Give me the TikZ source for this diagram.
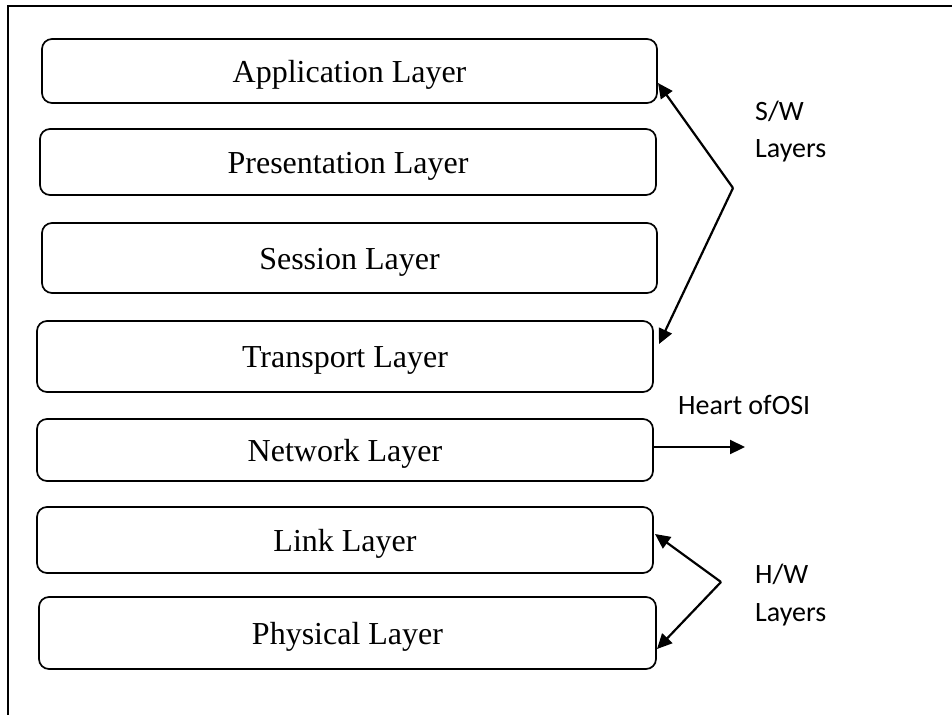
\documentclass[tikz,border=0pt]{standalone}
\usepackage{fontspec}
\setmainfont{Liberation Serif}
\newfontfamily\labelfont{Carlito}
\usetikzlibrary{arrows.meta}
\tikzset{
  layerbox/.style={draw, line width=1.7pt, rounded corners=10pt, inner sep=0pt,
    text height=22pt, text depth=0pt, font=\fontsize{32}{36}\selectfont},
  pointer/.style={line width=2.2pt, -{Triangle[length=15pt,width=14pt]}},
  sidelabel/.style={anchor=base west, inner sep=0pt, font=\labelfont\fontsize{28}{32}\selectfont}
}
\begin{document}
\begin{tikzpicture}[x=1pt,y=-1pt]
\useasboundingbox (0,0) rectangle (952,715);
% open frame: top and left edges only
\draw[line width=2.2pt] (952,6) -- (8,6) -- (8,715);
% the seven layers
\node[layerbox, minimum width=615pt, minimum height=64pt] (app)  at (349.5,71)  {Application Layer};
\node[layerbox, minimum width=616pt, minimum height=66pt] (pres) at (348,162)   {Presentation Layer};
\node[layerbox, minimum width=615pt, minimum height=70pt] (sess) at (349.5,258) {Session Layer};
\node[layerbox, minimum width=616pt, minimum height=71pt] (trans) at (345,356.5) {Transport Layer};
\node[layerbox, minimum width=616pt, minimum height=62pt] (net)  at (345,450)   {Network Layer};
\node[layerbox, minimum width=616pt, minimum height=66pt] (link) at (345,540)   {Link Layer};
\node[layerbox, minimum width=617pt, minimum height=72pt] (phys) at (347.5,633) {Physical Layer};
% software layers bracket
\coordinate (swjoin) at (733,188);
\coordinate (swtop) at (658,83);
\coordinate (swbot) at (659,344);
\draw[pointer] (swjoin) -- (swtop);
\draw[pointer] (swjoin) -- (swbot);
\node[sidelabel] (swlabel) at (755,120) {S/W};
\node[sidelabel] (swlabel2) at (755,157) {Layers};
% network layer callout
\coordinate (heart) at (745,447);
\draw[pointer] (net.east |- heart) -- (heart);
\node[sidelabel] (heartlabel) at (678,414) {Heart ofOSI};
% hardware layers bracket
\coordinate (hwjoin) at (721,582);
\coordinate (hwtop) at (655,534);
\coordinate (hwbot) at (657,649);
\draw[pointer] (hwjoin) -- (hwtop);
\draw[pointer] (hwjoin) -- (hwbot);
\node[sidelabel] (hwlabel) at (755,583) {H/W};
\node[sidelabel] (hwlabel2) at (755,621) {Layers};
\end{tikzpicture}
\end{document}
